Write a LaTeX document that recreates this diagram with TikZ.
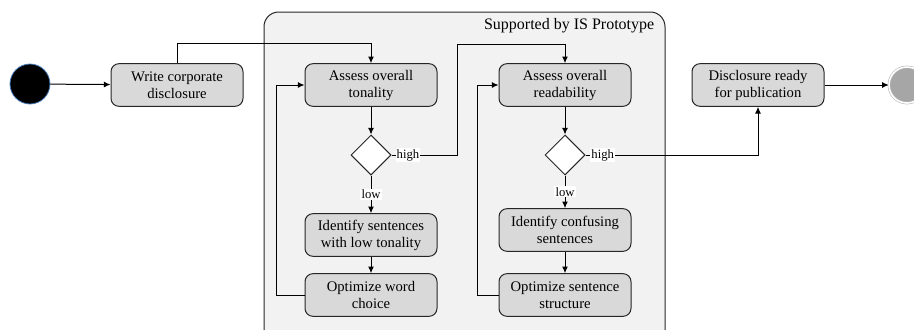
\documentclass[tikz,border=0pt]{standalone}
\usepackage{fontspec}
\setmainfont{Liberation Serif}
\usetikzlibrary{arrows.meta,shapes.geometric}

\definecolor{actgray}{HTML}{D9D9D9}
\definecolor{protobg}{HTML}{F2F2F2}
\definecolor{endgray}{HTML}{A6A6A6}
\definecolor{startline}{HTML}{4A7EBB}

\tikzset{
    action/.style={draw=black!85, fill=actgray, rounded corners=6pt, line width=0.75pt,
        minimum width=99pt, minimum height=32pt, align=center, inner sep=2pt,
        font=\fontsize{11}{12.75}\selectfont},
    decision/.style={draw=black!85, fill=white, diamond, line width=0.75pt,
        minimum width=30pt, minimum height=30pt, inner sep=0pt},
    initial/.style={circle, fill=black, draw=startline, line width=0.6pt,
        minimum size=30pt, inner sep=0pt},
    final/.style={circle, fill=endgray, draw=black!30, line width=0.4pt,
        double=white, double distance=1.2pt, minimum size=27pt, inner sep=0pt},
    flow/.style={-{Latex[length=5pt,width=4.5pt]}, line width=0.75pt},
    guard/.style={fill=white, inner sep=0.8pt, font=\fontsize{9.5}{10}\selectfont}
}

\begin{document}
\begin{tikzpicture}[x=0.75pt,y=-0.75pt]
    \useasboundingbox (0,0) rectangle (914,329);
    \clip (0,0) rectangle (914,329);

    % IS prototype region
    \draw[fill=protobg, draw=black!85, line width=0.75pt, rounded corners=11pt]
        (264,12) rectangle (665,345);
    \node[anchor=east, font=\fontsize{12}{14}\selectfont] (proto) at (659,26) {Supported by IS Prototype};

    % start and writing
    \node[initial] (init) at (30,84) {};
    \node[action] (write) at (177,85) {Write corporate\\disclosure};

    % tonality
    \node[action] (tone) at (371,85) {Assess overall\\tonality};
    \node[decision] (dtone) at (371,155) {};
    \node[action] (idtone) at (371,235) {Identify sentences\\with low tonality};
    \node[action] (optword) at (371,295) {Optimize word\\choice};

    % readability
    \node[action] (read) at (565,85) {Assess overall\\readability};
    \node[decision] (dread) at (565,155) {};
    \node[action] (idread) at (565,230) {Identify confusing\\sentences};
    \node[action] (optsent) at (565,295) {Optimize sentence\\structure};

    % end
    \node[action] (ready) at (758,85) {Disclosure ready\\for publication};
    \node[final] (stop) at (907,85) {};

    % flows
    \draw[flow] (init) -- (write);
    \draw[flow] (write.north) -- ++(0,-20) -| (tone.north);
    \draw[flow] (tone) -- (dtone);
    \draw[flow] (dtone) -- node[guard] {low} (idtone);
    \draw[flow] (idtone) -- (optword);
    \draw[flow] (optword.west) -- ++(-28,0) |- (tone.west);
    \draw[flow] (dtone.east) -- node[guard, pos=0.25] {high} ++(66,0) -- ++(0,-111) -| (read.north);

    \draw[flow] (read) -- (dread);
    \draw[flow] (dread) -- node[guard] {low} (idread);
    \draw[flow] (idread) -- (optsent);
    \draw[flow] (optsent.west) -- ++(-21,0) |- (read.west);
    \draw[flow] (dread.east) -| node[guard, pos=0.05] {high} (ready.south);
    \draw[flow] (ready) -- (stop);
\end{tikzpicture}
\end{document}
